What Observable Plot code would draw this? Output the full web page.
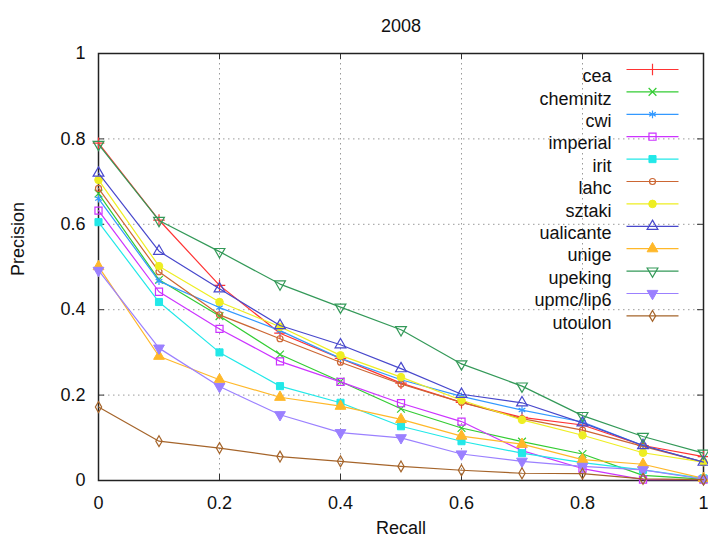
<!DOCTYPE html>
<html>
<head>
<meta charset="utf-8">
<script src="https://cdn.jsdelivr.net/npm/d3@7"></script>
<script src="https://cdn.jsdelivr.net/npm/@observablehq/plot@0.6"></script>
<style>
  html, body { margin: 0; padding: 0; background: #fff; }
</style>
</head>
<body>
<div id="chart"></div>
<script>
const title = "2008";
const xLabel = "Recall";
const yLabel = "Precision";
const recall = [0, 0.1, 0.2, 0.3, 0.4, 0.5, 0.6, 0.7, 0.8, 0.9, 1.0];
const tickValues = [0, 0.2, 0.4, 0.6, 0.8, 1];
const tickLabels = ["0", "0.2", "0.4", "0.6", "0.8", "1"];

const seriesNames = ["cea", "chemnitz", "cwi", "imperial", "irit", "lahc", "sztaki", "ualicante", "unige", "upeking", "upmc/lip6", "utoulon"];

const cea       = [0.790, 0.610, 0.457, 0.345, 0.286, 0.228, 0.183, 0.148, 0.130, 0.082, 0.056];
const chemnitz  = [0.672, 0.470, 0.385, 0.295, 0.232, 0.168, 0.123, 0.091, 0.062, 0.012, 0.003];
const cwi       = [0.660, 0.467, 0.405, 0.351, 0.286, 0.236, 0.197, 0.165, 0.137, 0.082, 0.043];
const imperial  = [0.632, 0.442, 0.355, 0.279, 0.231, 0.181, 0.138, 0.070, 0.028, 0.002, 0.002];
const irit      = [0.605, 0.418, 0.300, 0.221, 0.182, 0.127, 0.092, 0.064, 0.042, 0.025, 0.005];
const lahc      = [0.684, 0.489, 0.388, 0.332, 0.277, 0.226, 0.183, 0.145, 0.118, 0.080, 0.043];
const sztaki    = [0.704, 0.502, 0.418, 0.360, 0.293, 0.242, 0.188, 0.142, 0.106, 0.065, 0.043];
const ualicante = [0.720, 0.537, 0.449, 0.363, 0.318, 0.262, 0.202, 0.182, 0.135, 0.082, 0.043];
const unige     = [0.501, 0.291, 0.236, 0.195, 0.174, 0.143, 0.104, 0.085, 0.049, 0.038, 0.005];
const upeking   = [0.787, 0.609, 0.536, 0.460, 0.406, 0.353, 0.273, 0.221, 0.152, 0.103, 0.064];
const upmc      = [0.492, 0.310, 0.220, 0.154, 0.112, 0.100, 0.062, 0.045, 0.033, 0.025, 0.003];
const utoulon   = [0.172, 0.092, 0.076, 0.056, 0.045, 0.033, 0.024, 0.017, 0.016, 0.004, 0.002];

const seriesValues = [cea, chemnitz, cwi, imperial, irit, lahc, sztaki, ualicante, unige, upeking, upmc, utoulon];

const colors = ["#ff3333", "#33cc33", "#3399ff", "#cc33ff", "#22e8e8", "#cc6633", "#eeee22", "#4848cc", "#ffb829", "#339958", "#9b80ff", "#a5642a"];

// marker styles
const markerStyles = [
  {symbol: "plus", filled: false, r: 3.8, rotate: 0},
  {symbol: "times", filled: false, r: 3.6, rotate: 0},
  {symbol: "asterisk", filled: false, r: 3.6, rotate: 0},
  {symbol: "square", filled: false, r: 4, rotate: 0},
  {symbol: "square", filled: true, r: 4, rotate: 0},
  {symbol: "circle", filled: false, r: 3, rotate: 0},
  {symbol: "circle", filled: true, r: 3.8, rotate: 0},
  {symbol: "triangle", filled: false, r: 4, rotate: 0},
  {symbol: "triangle", filled: true, r: 4, rotate: 0},
  {symbol: "triangle", filled: false, r: 4, rotate: 180},
  {symbol: "triangle", filled: true, r: 4, rotate: 180},
  {symbol: "diamond", filled: false, r: 3.3, rotate: 0}
];

const rows = [];
seriesNames.forEach((name, i) => {
  seriesValues[i].forEach((v, j) => rows.push({series: name, recall: recall[j], precision: v}));
});

const W = 708, H = 545, mL = 98, mR = 5, mT = 53, mB = 65;
const innerW = W - mL - mR, innerH = H - mT - mB;
const tickLen = 6;
const inner = tickValues.filter(v => v > 0 && v < 1);
const FS = 18;

const lineSymbol = {
  draw(context) { context.moveTo(-26, 0); context.lineTo(26, 0); }
};

const marks = [
  Plot.gridX({ticks: inner, stroke: "#9a9a9a", strokeOpacity: 1, strokeDasharray: "1.5,3.5"}),
  Plot.gridY({ticks: inner, stroke: "#9a9a9a", strokeOpacity: 1, strokeDasharray: "1.5,3.5"}),
  Plot.tickX(inner, {x: d => d, insetTop: innerH - tickLen, stroke: "#333"}),
  Plot.tickX(inner, {x: d => d, insetBottom: innerH - tickLen, stroke: "#333"}),
  Plot.tickY(inner, {y: d => d, insetRight: innerW - tickLen, stroke: "#333"}),
  Plot.tickY(inner, {y: d => d, insetLeft: innerW - tickLen, stroke: "#333"}),
  Plot.axisX({ticks: tickValues, tickFormat: (d, i) => tickLabels[i], tickSize: 0, tickPadding: 16, fontSize: FS, label: null}),
  Plot.axisY({ticks: tickValues, tickFormat: (d, i) => tickLabels[i], tickSize: 0, tickPadding: 13, fontSize: FS, label: null}),
  Plot.frame({stroke: "#222", strokeWidth: 1.5}),
  Plot.text([title], {frameAnchor: "top", dy: -34, fontSize: FS, fill: "#111"}),
  Plot.text([xLabel], {frameAnchor: "bottom", dy: 53, fontSize: FS, fill: "#111"}),
  Plot.text([yLabel], {frameAnchor: "left", dx: -80, dy: 9, rotate: -90, fontSize: FS, fill: "#111"})
];

seriesNames.forEach((name, i) => {
  const data = rows.filter(d => d.series === name);
  const m = markerStyles[i];
  const c = colors[i];
  marks.push(Plot.line(data, {x: "recall", y: "precision", stroke: c, strokeWidth: 1.2}));
  marks.push(Plot.dot(data, {
    x: "recall", y: "precision", symbol: m.symbol, r: m.r, rotate: m.rotate,
    stroke: c, fill: m.filled ? c : "none", strokeWidth: m.filled ? 1 : 1.2
  }));
  // legend entry
  const dy = 16 + 22.4 * i;
  marks.push(Plot.text([name], {frameAnchor: "top-right", dx: -92, dy, textAnchor: "end", fontSize: FS, fill: "#111"}));
  marks.push(Plot.dot([name], {frameAnchor: "top-right", dx: -51, dy, symbol: lineSymbol, r: 1, stroke: c, strokeWidth: 1.2, fill: "none"}));
  marks.push(Plot.dot([name], {frameAnchor: "top-right", dx: -51, dy, symbol: m.symbol, r: m.r, rotate: m.rotate, stroke: c, fill: m.filled ? c : "none", strokeWidth: m.filled ? 1 : 1.2}));
});

const chart = Plot.plot({
  width: W,
  height: H,
  marginLeft: mL,
  marginRight: mR,
  marginTop: mT,
  marginBottom: mB,
  x: {domain: [0, 1]},
  y: {domain: [0, 1]},
  style: {fontFamily: "'Liberation Sans', Arial, sans-serif", fontSize: FS + "px", background: "#fff", color: "#111"},
  marks
});
document.getElementById("chart").appendChild(chart);
</script>
</body>
</html>
